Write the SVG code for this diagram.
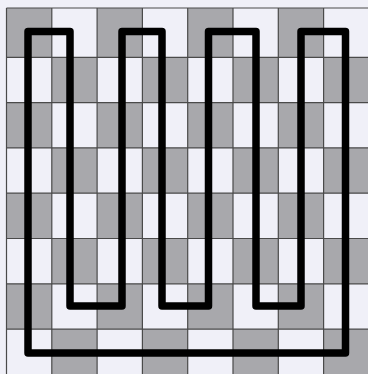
<svg xmlns="http://www.w3.org/2000/svg" width="368" height="374" viewBox="0 0 368 374">
<style>
.bg{fill:#f0f0f8}
.g{fill:#a8a8ac}
.grid{stroke:#4a4a4a;stroke-width:1.2;fill:none}
.route{stroke:#000;stroke-width:7.5;fill:none;stroke-linejoin:round}
</style>
<rect class="bg" x="0" y="0" width="368" height="374"/>
<g id="cells">
<rect class="g" x="6.5" y="8" width="45.3" height="49.3"/>
<rect class="g" x="97.1" y="8" width="45.3" height="49.3"/>
<rect class="g" x="187.7" y="8" width="45.3" height="49.3"/>
<rect class="g" x="278.3" y="8" width="45.3" height="49.3"/>
<rect class="g" x="51.8" y="57.3" width="45.3" height="45.3"/>
<rect class="g" x="142.4" y="57.3" width="45.3" height="45.3"/>
<rect class="g" x="233" y="57.3" width="45.3" height="45.3"/>
<rect class="g" x="323.6" y="57.3" width="45.3" height="45.3"/>
<rect class="g" x="6.5" y="102.6" width="45.3" height="45.3"/>
<rect class="g" x="97.1" y="102.6" width="45.3" height="45.3"/>
<rect class="g" x="187.7" y="102.6" width="45.3" height="45.3"/>
<rect class="g" x="278.3" y="102.6" width="45.3" height="45.3"/>
<rect class="g" x="51.8" y="147.9" width="45.3" height="45.3"/>
<rect class="g" x="142.4" y="147.9" width="45.3" height="45.3"/>
<rect class="g" x="233" y="147.9" width="45.3" height="45.3"/>
<rect class="g" x="323.6" y="147.9" width="45.3" height="45.3"/>
<rect class="g" x="6.5" y="193.2" width="45.3" height="45.3"/>
<rect class="g" x="97.1" y="193.2" width="45.3" height="45.3"/>
<rect class="g" x="187.7" y="193.2" width="45.3" height="45.3"/>
<rect class="g" x="278.3" y="193.2" width="45.3" height="45.3"/>
<rect class="g" x="51.8" y="238.5" width="45.3" height="45.3"/>
<rect class="g" x="142.4" y="238.5" width="45.3" height="45.3"/>
<rect class="g" x="233" y="238.5" width="45.3" height="45.3"/>
<rect class="g" x="323.6" y="238.5" width="45.3" height="45.3"/>
<rect class="g" x="6.5" y="283.8" width="45.3" height="45.3"/>
<rect class="g" x="97.1" y="283.8" width="45.3" height="45.3"/>
<rect class="g" x="187.7" y="283.8" width="45.3" height="45.3"/>
<rect class="g" x="278.3" y="283.8" width="45.3" height="45.3"/>
<rect class="g" x="51.8" y="329.1" width="45.3" height="45.3"/>
<rect class="g" x="142.4" y="329.1" width="45.3" height="45.3"/>
<rect class="g" x="233" y="329.1" width="45.3" height="45.3"/>
<rect class="g" x="323.6" y="329.1" width="45.3" height="45.3"/>
</g>
<g id="gridlines" class="grid">
<path d="M6.5,8H368M6.5,57.3H368M6.5,102.6H368M6.5,147.9H368M6.5,193.2H368M6.5,238.5H368M6.5,283.8H368M6.5,329.1H368"/>
<path d="M6.5,8V374M51.8,8V374M97.1,8V374M142.4,8V374M187.7,8V374M233,8V374M278.3,8V374M323.6,8V374"/>
</g>
<g id="connectors">
<path class="route" d="M28,31.5H70V306H122V31.5H162V306H208.5V31.5H256V306H301V31.5H345.5V353H28Z"/>
</g>
</svg>
